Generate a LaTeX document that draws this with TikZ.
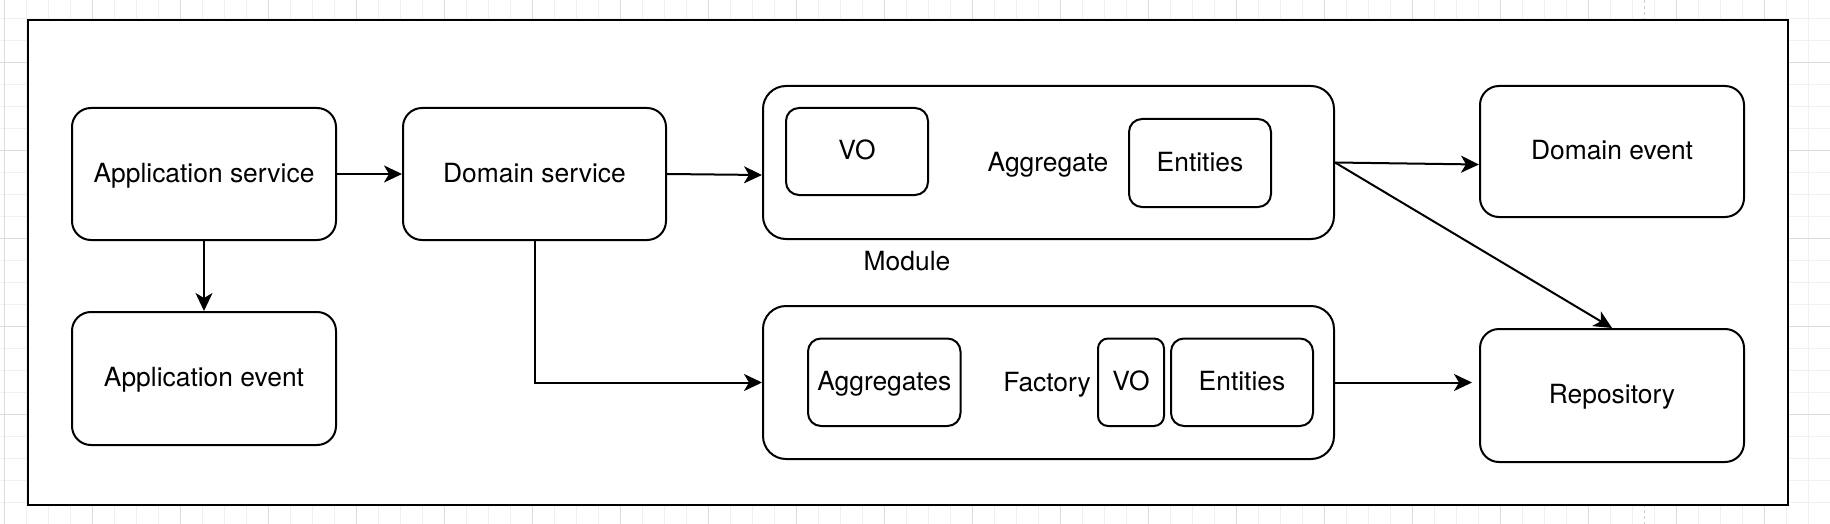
\documentclass[tikz,border=0pt]{standalone}
\usepackage{fontspec}
\setmainfont{TeX Gyre Heros}
\usetikzlibrary{arrows.meta}
\definecolor{gridminor}{HTML}{F0F0F0}
\definecolor{gridmajor}{HTML}{DCDCDC}
\tikzset{
  every node/.style={font=\fontsize{26.4}{31}\selectfont, text height=22.6pt, text depth=5.8pt, inner sep=0pt},
  box/.style={draw=black, line width=2pt, fill=white},
  lbl/.style={},
  conn/.style={line width=2pt, -{Stealth[length=18pt, width=17pt, inset=5pt]}},
}
\newcommand{\rbox}[7]{% name, x1, y1, x2, y2, radius, text
  \node[box, rounded corners=#6, minimum width={#4-#2}, minimum height={#5-#3}] (#1) at ({(#2+#4)/2},{(#3+#5)/2}) {#7};
}
\begin{document}
\begin{tikzpicture}[x=1pt, y=-1pt]
\useasboundingbox (0,0) rectangle (1830,524);
\fill[white] (0,0) rectangle (1830,524);
% grid
\foreach \i in {0,...,83} {
  \draw[gridminor, line width=1pt] ({4.3+22*\i},0) -- ({4.3+22*\i},524);
}
\foreach \j in {0,...,23} {
  \draw[gridminor, line width=1pt] (0,{18.7+22*\j}) -- (1830,{18.7+22*\j});
}
\foreach \i in {0,...,20} {
  \draw[gridmajor, line width=1pt] ({4.3+88*\i},0) -- ({4.3+88*\i},524);
}
\foreach \j in {0,...,5} {
  \draw[gridmajor, line width=1pt] (0,{-25.3+88*\j}) -- (1830,{-25.3+88*\j});
}
\draw[gray!40, dashed, line width=1pt] (1644,0) -- (1644,524);
% outer frame
\draw[draw=black, fill=white, line width=2.2pt] (28,20) rectangle (1788,505);
% boxes
\rbox{appsvc}{72}{108}{336}{240}{19}{Application service}
\rbox{appevt}{72}{312}{336}{445}{19}{Application event}
\rbox{domsvc}{403}{108}{666}{240}{19}{Domain service}
\rbox{aggmod}{763}{86}{1334}{239}{23}{}
\rbox{vo1}{786}{108}{928}{195}{13}{VO}
\rbox{ent1}{1129}{119}{1271}{207}{13}{Entities}
\node[lbl] (agglbl) at (1048,163) {Aggregate};
\node[lbl] (modlbl) at (907,262) {Module};
\rbox{facmod}{763}{306}{1334}{459}{23}{}
\rbox{aggs}{808}{338.5}{960.5}{426}{13}{Aggregates}
\node[lbl] (faclbl) at (1047,383) {Factory};
\rbox{vo2}{1098}{338.5}{1164}{426}{10}{VO}
\rbox{ent2}{1171}{338.5}{1313}{426}{13}{Entities}
\rbox{domevt}{1480}{86}{1744}{217}{19}{Domain event}
\rbox{repo}{1480}{329}{1744}{462}{19}{Repository}
% connectors
\draw[conn] (appsvc.east) -- (domsvc.west);
\draw[conn] (appsvc.south) -- (appevt.north);
\draw[conn] (domsvc.east |- 0,174) -- (aggmod.west |- 0,175);
\draw[conn] (domsvc.south) |- (facmod.west);
\draw[conn] (aggmod.east) -- (domevt.west |- 0,164.5);
\draw[conn] (aggmod.east) -- (repo.north);
\draw[conn, shorten >=7pt] (facmod.east) -- (repo.west |- facmod.east);
\end{tikzpicture}
\end{document}
